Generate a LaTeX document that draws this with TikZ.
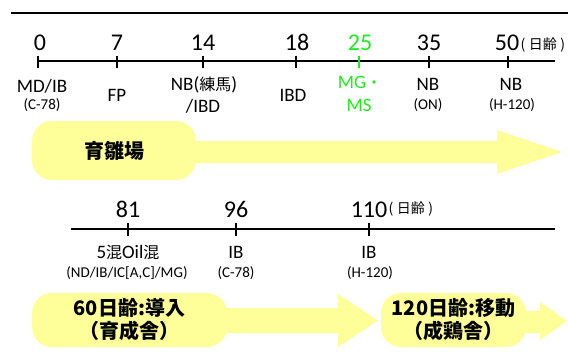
\documentclass[tikz,border=0pt]{standalone}
\usepackage{fontspec}
\setmainfont{Carlito}
\newfontfamily\jp{Noto Sans CJK JP}
\definecolor{yel}{RGB}{255,255,153}
\definecolor{grn}{RGB}{30,235,30}
\newcommand\jtxt[1]{{\jp\fontsize{16}{16}\selectfont #1}}
\begin{document}
\begin{tikzpicture}[x=1pt,y=-1pt,
  tl/.style={line width=1.4pt},
  tk/.style={line width=1.4pt},
  num/.style={font=\fontsize{24}{24}\selectfont, anchor=base, inner sep=0pt},
  lab/.style={font=\fontsize{19}{19}\selectfont, anchor=base, inner sep=0pt},
  sub/.style={font=\fontsize{15}{15}\selectfont, anchor=base, inner sep=0pt},
  unit/.style={font=\jp\fontsize{14}{14}\selectfont, anchor=base west, inner sep=0pt},
  bx/.style={fill=yel, rounded corners=20pt, inner sep=0pt, font=\jp\bfseries\fontsize{20}{23}\selectfont, align=center},
  arr/.style={fill=yel},
  g/.style={text=grn}]
\useasboundingbox (0,0) rectangle (568,356);
% top rule
\coordinate (t0) at (11,13); \coordinate (t1) at (568,13);
\draw[line width=1.5pt] (t0) -- (t1);

% ---------- timeline 1 ----------
\coordinate (a0) at (38,61); \coordinate (a1) at (555,61);
\draw[tl] (a0) -- (a1);
\foreach \x in {38,117,203,296,429,508} \draw[tk] (\x,55.5) -- (\x,68);
\draw[tk,grn] (359,55.5) -- (359,68);
\node[num] (n0) at (40,50) {0};
\node[num] (n7) at (117,50) {7};
\node[num] (n14) at (203,50) {14};
\node[num] (n18) at (297,50) {18};
\node[num,g] (n25) at (360,50) {25};
\node[num] (n35) at (429,50) {35};
\node[num] (n50) at (507,50) {50};
\node[unit] (u1) at (520.5,49) {(\hspace{0.25em}日齢\hspace{0.25em})};

\node[lab] (l0a) at (42,92) {MD/IB};
\node[sub] (l0b) at (42,109) {(C-78)};
\node[lab] (l1) at (117,101) {FP};
\node[lab] (l2a) at (204,90) {NB(\jtxt{練馬})};
\node[lab] (l2b) at (203,112) {/IBD};
\node[lab] (l3) at (293,101) {IBD};
\node[lab,g] (l4a) at (360,88) {MG\jtxt{・}};
\node[lab,g] (l4b) at (359,111) {MS};
\node[lab] (l5a) at (428,90) {NB};
\node[sub] (l5b) at (428,109) {(ON)};
\node[lab] (l6a) at (511,90) {NB};
\node[sub] (l6b) at (512,109) {(H-120)};

% arrow 1
\fill[arr] (190,141) -- (497,141) -- (497,130) -- (562,152) -- (497,174) -- (497,163) -- (190,163) -- cycle;
\node[bx, minimum width=164pt, minimum height=59pt] (r1) at (114,150.5) {育雛場};

% ---------- timeline 2 ----------
\coordinate (b0) at (71,229); \coordinate (b1) at (555,229);
\draw[tl] (b0) -- (b1);
\foreach \x in {128,236,369} \draw[tk] (\x,223) -- (\x,236);
\node[num] (m81) at (128,217) {81};
\node[num] (m96) at (236,217) {96};
\node[num] (m110) at (369,217) {110};
\node[unit] (u2) at (388.5,213) {(\hspace{0.25em}日齢\hspace{0.25em})};

\node[lab] (k0a) at (128,258) {5\jtxt{混}Oil\jtxt{混}};
\node[sub] (k0b) at (127,277) {(ND/IB/IC[A,C]/MG)};
\node[lab] (k1a) at (236,258) {IB};
\node[sub] (k1b) at (236,277) {(C-78)};
\node[lab] (k2a) at (369,258) {IB};
\node[sub] (k2b) at (370,277) {(H-120)};

% arrows row 2
\fill[arr] (220,308) -- (338,308) -- (338,294) -- (378,320.5) -- (338,347) -- (338,333) -- (220,333) -- cycle;
\fill[arr] (515,311) -- (540,311) -- (540,302) -- (567,321) -- (540,340) -- (540,333) -- (515,333) -- cycle;
\node[bx, minimum width=195pt, minimum height=54pt] (r2) at (129.5,320) {60日齢:導入\\（育成舎）};
\node[bx, minimum width=145pt, minimum height=54pt] (r3) at (453.5,320) {120日齢:移動\\（成鶏舎）};
\end{tikzpicture}
\end{document}
